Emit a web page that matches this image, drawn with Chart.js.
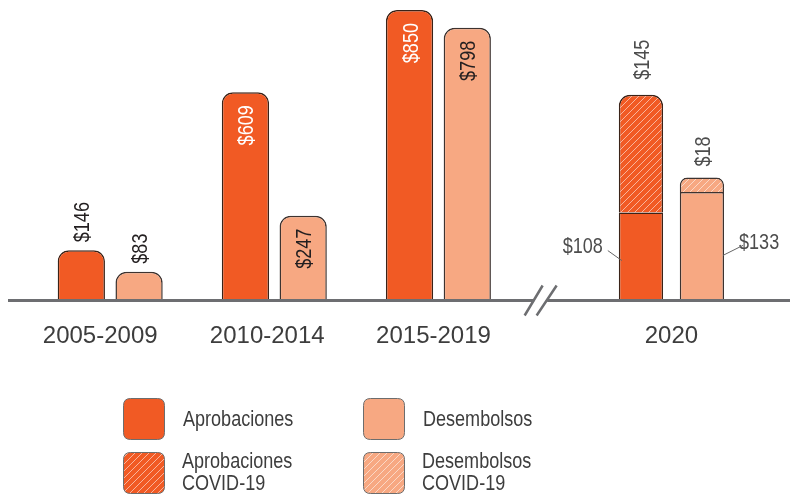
<!DOCTYPE html>
<html><head><meta charset="utf-8">
<script src="https://cdn.jsdelivr.net/npm/chart.js@4.4.1/dist/chart.umd.min.js"></script>
<style>html,body{margin:0;padding:0;background:#fff;}canvas{display:block;}</style>
</head><body>
<canvas id="c" width="790" height="498"></canvas>
<script>
// ---- data ----
const categories = ['2005-2009', '2010-2014', '2015-2019', '2020'];
const aprobaciones = [146, 609, 850, null];
const desembolsos = [83, 247, 798, null];
const aprobaciones2020 = [null, null, null, 108];
const aprobacionesCovid = [null, null, null, 145];
const desembolsos2020 = [null, null, null, 133];
const desembolsosCovid = [null, null, null, 18];
const legendLabels = [['Aprobaciones'], ['Desembolsos'], ['Aprobaciones', 'COVID-19'], ['Desembolsos', 'COVID-19']];

// ---- layout / style ----
const BREAK_EXTRA = 0.42;           // extra spacing after the axis break
const BREAK_AT = 2.62;              // where the // mark sits on the index axis
const TICK_SHIFT = [-0.061, -0.043, -0.03, 0]; // label nudges (as in the original layout)
const ORANGE = '#F15A24';
const PEACH = '#F7A882';
const REG = "'Liberation Sans', Arial, sans-serif";
const NARROW_SCALE = 0.82;
const DARK = '#231f20';
const GRAY_TXT = '#4d4d4d';
const AXIS = '#6d6e71';

const ctx0 = document.getElementById('c').getContext('2d');
function hatch(base) {
  const s = 7;
  const c = document.createElement('canvas'); c.width = s; c.height = s;
  const g = c.getContext('2d');
  g.fillStyle = base; g.fillRect(0, 0, s, s);
  g.strokeStyle = 'rgba(255,255,255,0.55)'; g.lineWidth = 1;
  g.beginPath();
  g.moveTo(-1, s + 1); g.lineTo(s + 1, -1);
  g.moveTo(-1, 1); g.lineTo(1, -1);
  g.moveTo(s - 1, s + 1); g.lineTo(s + 1, s - 1);
  g.stroke();
  return ctx0.createPattern(c, 'repeat');
}
const ORANGE_H = hatch(ORANGE);
const PEACH_H = hatch(PEACH);

const pos = i => i + (i >= 3 ? BREAK_EXTRA : 0);
const pts = arr => arr.map((v, i) => v == null ? null : { x: pos(i), y: v }).filter(Boolean);
const tickPos = categories.map((c, i) => pos(i) + TICK_SHIFT[i]);

const topR = { topLeft: 11, topRight: 11, bottomLeft: 0, bottomRight: 0 };
const histCommon = { yAxisID: 'y', borderWidth: 1.5, borderSkipped: 'bottom', borderRadius: topR,
  categoryPercentage: 0.704, barPercentage: 0.818 };
const c20 = { yAxisID: 'y2', borderWidth: 1.5, borderSkipped: 'bottom',
  categoryPercentage: 0.743, barPercentage: 0.726 };

const datasets = [
  Object.assign({ label: 'Aprobaciones', data: pts(aprobaciones), stack: 'a', backgroundColor: ORANGE, borderColor: '#3a2318' }, histCommon),
  Object.assign({ label: 'Desembolsos', data: pts(desembolsos), stack: 'd', backgroundColor: PEACH, borderColor: '#3d3330' }, histCommon),
  Object.assign({ label: 'Aprobaciones 2020', data: pts(aprobaciones2020), stack: 'a', backgroundColor: ORANGE, borderColor: '#3a2318', borderRadius: 0 }, c20),
  Object.assign({ label: 'Aprobaciones COVID-19', data: pts(aprobacionesCovid), stack: 'a', backgroundColor: ORANGE_H, borderColor: '#3a2318', borderRadius: topR }, c20),
  Object.assign({ label: 'Desembolsos 2020', data: pts(desembolsos2020), stack: 'd', backgroundColor: PEACH, borderColor: '#3d3330', borderRadius: 0 }, c20),
  Object.assign({ label: 'Desembolsos COVID-19', data: pts(desembolsosCovid), stack: 'd', backgroundColor: PEACH_H, borderColor: '#3d3330', borderRadius: topR }, c20),
];

// narrow text: Liberation Sans squeezed horizontally
function narrowText(ctx, txt, x, y, align, color, rotate, baseline) {
  ctx.save();
  ctx.translate(x, y);
  if (rotate) ctx.rotate(-Math.PI / 2);
  ctx.scale(NARROW_SCALE, 1);
  ctx.font = '22px ' + REG;
  ctx.fillStyle = color;
  ctx.textAlign = align;
  ctx.textBaseline = baseline || 'alphabetic';
  ctx.fillText(txt, 0, rotate ? 8 : 0);
  ctx.restore();
}
function rrect(ctx, x, y, w, h, r) {
  ctx.beginPath();
  ctx.moveTo(x + r, y); ctx.lineTo(x + w - r, y); ctx.quadraticCurveTo(x + w, y, x + w, y + r);
  ctx.lineTo(x + w, y + h - r); ctx.quadraticCurveTo(x + w, y + h, x + w - r, y + h);
  ctx.lineTo(x + r, y + h); ctx.quadraticCurveTo(x, y + h, x, y + h - r);
  ctx.lineTo(x, y + r); ctx.quadraticCurveTo(x, y, x + r, y);
  ctx.closePath();
}

const decor = {
  id: 'decor',
  afterDatasetsDraw(chart) {
    const ctx = chart.ctx;
    const ca = chart.chartArea;
    const x = chart.scales.x;
    const y0 = chart.scales.y.getPixelForValue(0) + 0.5;
    const bx = x.getPixelForValue(BREAK_AT);
    // baseline with break
    ctx.save();
    ctx.strokeStyle = AXIS; ctx.lineWidth = 3; ctx.lineCap = 'butt';
    ctx.beginPath();
    ctx.moveTo(ca.left + 8, y0); ctx.lineTo(bx - 6, y0);
    ctx.moveTo(bx + 7, y0); ctx.lineTo(ca.right, y0);
    ctx.stroke();
    ctx.lineWidth = 2.5;
    ctx.beginPath();
    ctx.moveTo(bx - 15.5, y0 + 15); ctx.lineTo(bx + 2.5, y0 - 15);
    ctx.moveTo(bx - 3.5, y0 + 15); ctx.lineTo(bx + 16.5, y0 - 15);
    ctx.stroke();
    ctx.restore();

    // historical value labels
    [0, 1].forEach(di => {
      const meta = chart.getDatasetMeta(di);
      const vals = di === 0 ? aprobaciones : desembolsos;
      const vv = vals.filter(v => v != null);
      meta.data.forEach((bar, i) => {
        const h = bar.base - bar.y;
        const txt = '$' + vv[i];
        if (h > 70) {
          narrowText(ctx, txt, bar.x, bar.y + 13, 'right', di === 0 ? '#ffffff' : DARK, true);
        } else {
          narrowText(ctx, txt, bar.x, bar.y - 8, 'left', DARK, true);
        }
      });
    });
    // 2020 labels
    const mA = chart.getDatasetMeta(2).data[0];
    const mAc = chart.getDatasetMeta(3).data[0];
    const mD = chart.getDatasetMeta(4).data[0];
    const mDc = chart.getDatasetMeta(5).data[0];
    narrowText(ctx, '$' + aprobacionesCovid[3], mAc.x, mAc.y - 15, 'left', GRAY_TXT, true);
    narrowText(ctx, '$' + desembolsosCovid[3], mDc.x, mDc.y - 11, 'left', GRAY_TXT, true);

    const aLeft = mA.x - mA.width / 2;
    const ay = mA.y + (mA.base - mA.y) * 0.39;
    narrowText(ctx, '$' + aprobaciones2020[3], aLeft - 16, ay, 'right', GRAY_TXT, false, 'middle');
    const dRight = mD.x + mD.width / 2;
    const dy = mD.y + (mD.base - mD.y) * 0.475;
    narrowText(ctx, '$' + desembolsos2020[3], dRight + 15, dy, 'left', GRAY_TXT, false, 'middle');
    ctx.save();
    ctx.strokeStyle = '#666'; ctx.lineWidth = 1;
    ctx.beginPath();
    ctx.moveTo(aLeft - 11, ay + 4); ctx.lineTo(aLeft + 3, ay + 14);
    ctx.moveTo(dRight - 1, dy + 12); ctx.lineTo(dRight + 19, dy + 2);
    ctx.stroke();
    ctx.restore();
  },
  afterDraw(chart) {
    const ctx = chart.ctx;
    const fills = [ORANGE, PEACH, ORANGE_H, PEACH_H];
    const bxs = [123, 363], bys = [398, 452], tx = [183, 423];
    legendLabels.forEach((lines, i) => {
      const col = i % 2, row = Math.floor(i / 2);
      ctx.save();
      rrect(ctx, bxs[col] + 0.5, bys[row] + 0.5, 41, 41, 7);
      ctx.fillStyle = fills[i]; ctx.fill();
      ctx.strokeStyle = '#6d6d6d'; ctx.lineWidth = 1; ctx.stroke();
      ctx.restore();
      if (lines.length === 1) {
        narrowText(ctx, lines[0], tx[col], bys[row] + 28, 'left', '#3d3d3d', false);
      } else {
        narrowText(ctx, lines[0], tx[col] - 1, bys[row] + 16, 'left', '#3d3d3d', false);
        narrowText(ctx, lines[1], tx[col] - 1, bys[row] + 38, 'left', '#3d3d3d', false);
      }
    });
  }
};

new Chart(ctx0, {
  type: 'bar',
  data: { datasets },
  options: {
    responsive: false,
    animation: false,
    layout: { padding: { top: 8, left: 0, right: 0, bottom: 0 } },
    plugins: { legend: { display: false }, tooltip: { enabled: false } },
    scales: {
      x: {
        type: 'linear', min: -0.6716, max: 4.1426, offset: false,
        grid: { display: false, drawTicks: false }, border: { display: false },
        afterBuildTicks: s => { s.ticks = tickPos.map(v => ({ value: v })); },
        afterFit: s => { s.height = 198; },
        ticks: { autoSkip: false, maxRotation: 0, padding: 22, color: '#3d3d3d',
          font: { family: REG, size: 24 },
          callback: (v, i) => categories[i] }
      },
      y: { display: false, min: 0, max: 856 },
      y2: { display: false, min: 0, max: 360, stacked: true }
    }
  },
  plugins: [decor]
});
</script>
</body></html>
